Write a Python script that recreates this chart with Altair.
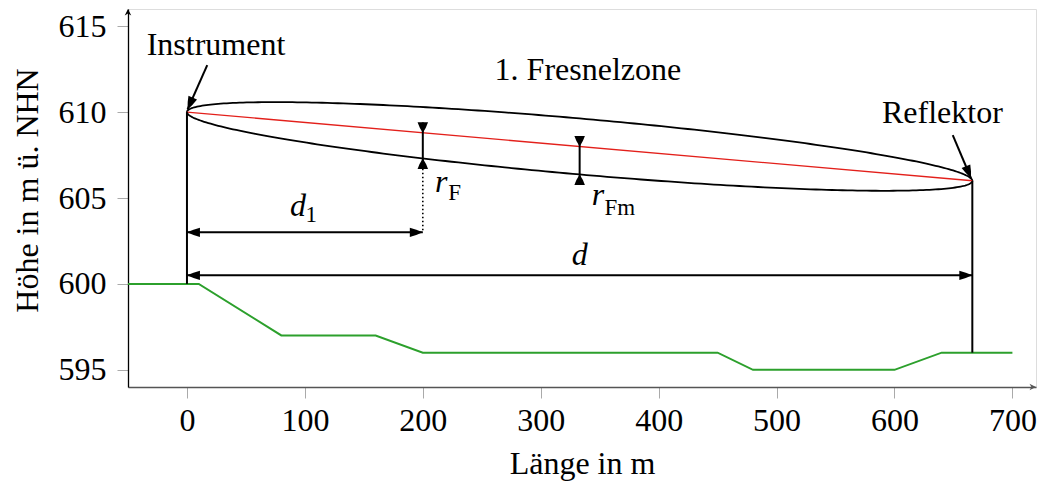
import altair as alt
import numpy as np
import pandas as pd

# ---------------- data ----------------
x_ticks = [0, 100, 200, 300, 400, 500, 600, 700]
y_ticks = [595, 600, 605, 610, 615]
x_range = [-50, 720]
y_range = [594, 616]

terrain_x = [-50, 10, 80, 160, 200, 450, 480, 600, 640, 700]
terrain_y = [600, 600, 597, 597, 596, 596, 595, 595, 596, 596]

inst_x, inst_y, inst_ground = 0, 610, 600
refl_x, refl_y, refl_ground = 666, 606, 596
d1 = 200
r_fm = 1.63          # half height of the 1st Fresnel zone at mid-span (m)
d1_arrow_y = 603.0
d_arrow_y = 600.5
tri_len = 0.6        # length of the marker triangles in metres

# annotation arrows: tail x, tail y, tip x, tip y, angle
inst_arrow = [17.2, 612.73, 0.5, 610.15, 113.5]
refl_arrow = [649.4, 608.66, 664.9, 606.15, 67.0]

# texts
plain_texts = ["Instrument", "Reflektor", "1. Fresnelzone"]
plain_x = [24.6, 640.6, 340]
plain_y = [613.32, 609.37, 611.87]

FONT = "Liberation Serif, Tinos, Times New Roman, DejaVu Serif, serif"
FS = 32
SUB = 23

# ---------------- derived geometry ----------------
def y_line(x):
    return inst_y + (refl_y - inst_y) * (np.asarray(x, dtype=float) - inst_x) / (refl_x - inst_x)

half = (refl_x - inst_x) / 2
mid = inst_x + half
theta = np.linspace(0, 2 * np.pi, 361)
ell_x = mid - half * np.cos(theta)
ell_y = y_line(ell_x) + r_fm * np.sin(theta)
ellipse = pd.DataFrame({"x": ell_x, "y": ell_y, "i": np.arange(len(theta))})

c = (mid - d1) / half
rf = r_fm * np.sqrt(1 - c ** 2)
yl_d1 = float(y_line(d1))
ylow_d1 = yl_d1 - rf
yl_m = float(y_line(mid))
ylow_m = yl_m - r_fm

terrain = pd.DataFrame({"x": terrain_x, "y": terrain_y})
sight = pd.DataFrame({"x": [inst_x], "y": [inst_y], "x2": [refl_x], "y2": [refl_y]})

segs = pd.DataFrame({
    "x":  [inst_x, refl_x, inst_x, inst_x, d1, mid, inst_arrow[0], refl_arrow[0]],
    "y":  [inst_ground, refl_ground, d1_arrow_y, d_arrow_y, yl_d1 + tri_len, yl_m + tri_len,
           inst_arrow[1], refl_arrow[1]],
    "x2": [inst_x, refl_x, d1, refl_x, d1, mid, inst_arrow[2], refl_arrow[2]],
    "y2": [inst_y, refl_y, d1_arrow_y, d_arrow_y, ylow_d1 - tri_len, ylow_m - tri_len,
           inst_arrow[3], refl_arrow[3]],
})
dotted = pd.DataFrame({"x": [d1], "y": [ylow_d1 - tri_len], "x2": [d1], "y2": [d1_arrow_y]})

heads = pd.DataFrame({
    "x": [inst_x, d1, inst_x, refl_x, inst_arrow[2], refl_arrow[2]],
    "y": [d1_arrow_y, d1_arrow_y, d_arrow_y, d_arrow_y, inst_arrow[3], refl_arrow[3]],
    "angle": [180, 0, 180, 0, inst_arrow[4], refl_arrow[4]],
})
markers = pd.DataFrame({
    "x": [d1, d1, mid, mid],
    "y": [yl_d1, ylow_d1, yl_m, ylow_m],
    "angle": [90, 270, 90, 270],
})
axis_heads_x = pd.DataFrame({"x": [x_range[1]], "y": [y_range[0]], "angle": [0]})
axis_heads_y = pd.DataFrame({"x": [x_range[0]], "y": [y_range[1]], "angle": [270]})

plain = pd.DataFrame({"t": plain_texts, "x": plain_x, "y": plain_y})
italic_main = pd.DataFrame({"t": ["d", "d", "r", "r"],
                            "x": [94.2, 333, 210.4, 343.3],
                            "y": [603.95, 601.1, 605.37, 604.59],
                            "a": ["center", "center", "left", "left"]})
subs = pd.DataFrame({"t": ["1", "F", "Fm"],
                     "x": [100.5, 221.5, 354.0],
                     "y": [603.62, 604.88, 604.0]})

# ---------------- scales / axes ----------------
xs = alt.Scale(domain=x_range, nice=False, zero=False)
ys = alt.Scale(domain=y_range, nice=False, zero=False)
xaxis = alt.Axis(values=x_ticks, format="d", title="Länge in m", grid=False,
                 domainColor="#555555", domainWidth=1.3, tickColor="#aaaaaa", tickSize=11,
                 tickWidth=1, labelFont=FONT, labelFontSize=FS, labelColor="black",
                 labelBaseline="alphabetic", labelPadding=32, labelFlush=False,
                 labelOverlap=False, titleFont=FONT, titleFontSize=FS, titleFontWeight="normal",
                 titleColor="black", titleBaseline="alphabetic", titleY=86)
yaxis = alt.Axis(values=y_ticks, format="d", title="Höhe in m ü. NHN", grid=False,
                 domainColor="black", domainWidth=1.3, tickColor="#aaaaaa", tickSize=11,
                 tickWidth=1, labelFont=FONT, labelFontSize=FS, labelColor="black",
                 labelPadding=11, labelFlush=False, labelOverlap=False,
                 titleFont=FONT, titleFontSize=FS, titleFontWeight="normal", titleColor="black",
                 titleBaseline="alphabetic", titleAngle=270, titleX=-91, titleY=181,
                 titleAlign="center")


def X():
    return alt.X("x:Q", scale=xs, axis=xaxis)


def Y():
    return alt.Y("y:Q", scale=ys, axis=yaxis)


ARROW = "M0,0 Q-0.5,-0.24 -1,-0.36 L-1,0.36 Q-0.5,0.24 0,0 Z"
MARK = "M0,0 Q-0.5,-0.34 -1,-0.5 L-1,0.5 Q-0.5,0.34 0,0 Z"
AXARROW = "M0,0 L-1,-0.5 L-0.7,0 L-1,0.5 Z"
ang = alt.Angle("angle:Q", scale=None)

l_terrain = alt.Chart(terrain).mark_line(color="#2ca02c", strokeWidth=2).encode(x=X(), y=Y())
l_ellipse = alt.Chart(ellipse).mark_line(color="black", strokeWidth=1.8).encode(
    x=X(), y=Y(), order="i:Q")
l_sight = alt.Chart(sight).mark_rule(color="#e3201b", strokeWidth=1.4).encode(
    x=X(), y=Y(), x2="x2:Q", y2="y2:Q")
l_segs = alt.Chart(segs).mark_rule(color="black", strokeWidth=2).encode(
    x=X(), y=Y(), x2="x2:Q", y2="y2:Q")
l_dot = alt.Chart(dotted).mark_rule(color="black", strokeWidth=1.6, strokeDash=[1.6, 2.4]).encode(
    x=X(), y=Y(), x2="x2:Q", y2="y2:Q")
l_heads = alt.Chart(heads).mark_point(shape=ARROW, size=676, filled=True, color="black",
                                      opacity=1, strokeWidth=0).encode(x=X(), y=Y(), angle=ang)
l_markers = alt.Chart(markers).mark_point(shape=MARK, size=441, filled=True, color="black",
                                          opacity=1, strokeWidth=0).encode(x=X(), y=Y(), angle=ang)
l_axx = alt.Chart(axis_heads_x).mark_point(shape=AXARROW, size=170, filled=True, color="#555555",
                                           opacity=1, strokeWidth=0).encode(x=X(), y=Y(), angle=ang)
l_axy = alt.Chart(axis_heads_y).mark_point(shape=AXARROW, size=170, filled=True, color="black",
                                           opacity=1, strokeWidth=0).encode(x=X(), y=Y(), angle=ang)
l_plain = alt.Chart(plain).mark_text(font=FONT, fontSize=FS, color="black", align="center",
                                     baseline="alphabetic").encode(x=X(), y=Y(), text="t:N")
l_ital_c = alt.Chart(italic_main[italic_main.a == "center"]).mark_text(
    font=FONT, fontSize=FS, fontStyle="italic", color="black", align="center",
    baseline="alphabetic").encode(x=X(), y=Y(), text="t:N")
l_ital_l = alt.Chart(italic_main[italic_main.a == "left"]).mark_text(
    font=FONT, fontSize=FS, fontStyle="italic", color="black", align="left",
    baseline="alphabetic").encode(x=X(), y=Y(), text="t:N")
l_subs = alt.Chart(subs).mark_text(font=FONT, fontSize=SUB, color="black", align="left",
                                   baseline="alphabetic").encode(x=X(), y=Y(), text="t:N")

chart = alt.layer(
    l_terrain, l_ellipse, l_sight, l_segs, l_dot, l_heads, l_markers, l_axx, l_axy,
    l_plain, l_ital_c, l_ital_l, l_subs
).properties(
    width=908, height=378,
    autosize=alt.AutoSizeParams(type="none"),
    padding={"left": 128, "top": 9, "right": 3, "bottom": 96},
).configure_view(stroke=None).configure(background="white")

chart.save("out.html", embed_options={"renderer": "svg", "actions": False})
